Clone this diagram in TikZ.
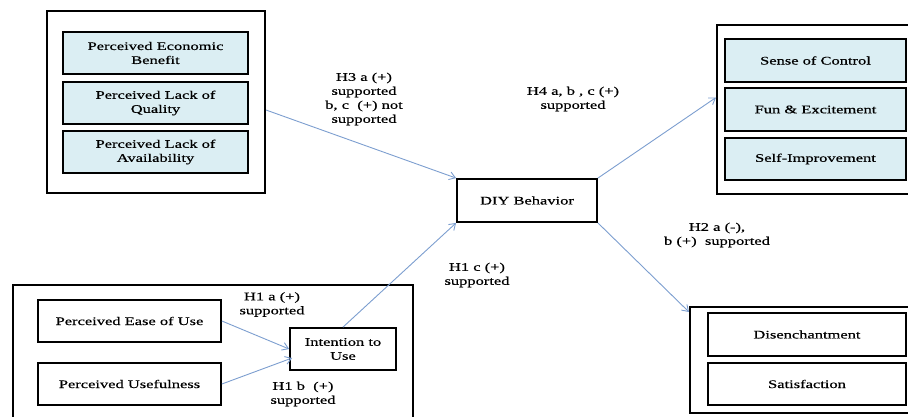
\documentclass[tikz,border=0pt]{standalone}
\usepackage{fontspec}
\setmainfont{Liberation Serif}[FakeStretch=1.42, FakeBold=0.5]
\usetikzlibrary{arrows.meta, calc}
\definecolor{boxblue}{RGB}{219,238,243}
\definecolor{linkblue}{RGB}{124,158,207}
\newcommand{\figfont}{\fontsize{11.6}{14}\selectfont}

\begin{document}
\begin{tikzpicture}[x=1pt, y=-1pt,
		frame/.style={draw=black, line width=2pt, inner sep=0pt},
		factor/.style={draw=black, line width=1.8pt, fill=boxblue, inner sep=0pt, align=center, font=\figfont},
		plainbox/.style={factor, fill=white},
		hyp/.style={align=center, inner sep=0pt, font=\figfont},
		link/.style={draw=linkblue, line width=0.9pt, -{Straight Barb[length=6pt, width=8pt]}}
	]
		\useasboundingbox (0,0) rectangle (908,417);
		\clip (0,0) rectangle (908,417);
		% outer frames
		\node[frame, minimum width=218pt, minimum height=182pt] (costs) at (156,102) {};
		\node[frame, minimum width=213pt, minimum height=169pt] (gains) at (823.5,109.5) {};
		\node[frame, minimum width=400pt, minimum height=145pt] (tam) at (213,357.5) {};
		\node[frame, minimum width=240pt, minimum height=106pt] (after) at (810,360) {};
		% left group
		\node[factor, minimum width=185pt, minimum height=42pt] (econ) at (155.5,53) {Perceived Economic\\Benefit};
		\node[factor, minimum width=185pt, minimum height=42pt] (quality) at (155.5,103) {Perceived Lack of\\Quality};
		\node[factor, minimum width=185pt, minimum height=42pt] (avail) at (155.5,152) {Perceived Lack of\\Availability};
		% right group
		\node[factor, minimum width=181pt, minimum height=43pt] (control) at (815.5,60.5) {Sense of Control};
		\node[factor, minimum width=181pt, minimum height=43pt] (fun) at (815.5,109.5) {Fun \& Excitement};
		\node[factor, minimum width=181pt, minimum height=42pt] (improve) at (815.5,159) {Self-Improvement};
		% centre
		\node[plainbox, minimum width=140pt, minimum height=43pt] (diy) at (527,200.5) {DIY Behavior};
		% bottom left group
		\node[plainbox, minimum width=183pt, minimum height=42pt] (ease) at (129.5,321) {Perceived Ease of Use};
		\node[plainbox, minimum width=183pt, minimum height=42pt] (useful) at (129.5,384) {Perceived Usefulness};
		\node[plainbox, minimum width=106pt, minimum height=42pt] (intent) at (343,349) {Intention to\\Use};
		% bottom right group
		\node[plainbox, minimum width=198pt, minimum height=43pt] (disench) at (807,334.5) {Disenchantment};
		\node[plainbox, minimum width=198pt, minimum height=42pt] (satis) at (807,384) {Satisfaction};
		% links
		\draw[link] ($(costs.east)+(0,8)$) -- (diy.north west);
		\draw[link] (intent.north) -- (diy.south west);
		\draw[link] (diy.north east) -- ($(gains.west)+(0,-12)$);
		\draw[link] (diy.south east) -- ($(after.north west)+(0,6)$);
		\draw[link] (ease.east) -- (intent.west);
		\draw[link] (useful.east) -- ($(intent.west)+(3,9)$);
		% hypotheses
		\node[hyp] (h3) at (364,99) {H3 a (+)\\supported\\b, c\ \ (+) not\\supported};
		\node[hyp] (h4) at (573,99) {H4 a, b , c (+)\\supported};
		\node[hyp] (h2) at (717,235) {H2 a (-),\\b (+)\ \ supported};
		\node[hyp] (h1c) at (477,275) {H1 c (+)\\supported};
		\node[hyp] (h1a) at (272,304.5) {H1 a (+)\\supported};
		\node[hyp] (h1b) at (303,394) {H1 b\ \ (+)\\supported};
	\end{tikzpicture}
\end{document}
